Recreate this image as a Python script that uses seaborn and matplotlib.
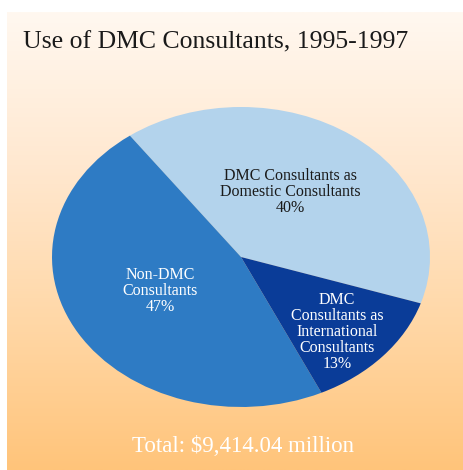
import numpy as np
import matplotlib.pyplot as plt
import seaborn as sns
from matplotlib.colors import LinearSegmentedColormap

# dados
categorias = ['DMC Consultants as\nDomestic Consultants',
              'Non-DMC\nConsultants',
              'DMC\nConsultants as\nInternational\nConsultants']
percentuais = [40, 47, 13]
cores = ['#b3d3ec', '#2e7bc4', '#0a3c98']
cores_texto = ['#1a1a1a', 'white', 'white']
titulo = 'Use of DMC Consultants, 1995-1997'
total = 'Total: $9,414.04 million'

sns.set_style('white')
plt.rcParams['font.family'] = ['Liberation Serif', 'DejaVu Serif']

W, H = 463, 470
fig = plt.figure(figsize=(W / 100, H / 100), dpi=100)

# fundo em degradê
bg = fig.add_axes([7 / W, 0, 1 - 7 / W, 1 - 12 / H])
cmap = LinearSegmentedColormap.from_list('bg', ['#fff8f0', '#ffe8d0', '#ffd8a8', '#ffc47a'])
grad = np.linspace(0, 1, 256).reshape(-1, 1)
bg.imshow(grad, aspect='auto', cmap=cmap, extent=[0, 1, 0, 1], origin='upper')
bg.set_axis_off()

# pizza (elíptica)
ax = fig.add_axes([52 / W, (H - 407) / H, 378 / W, 300 / H])
wedges, _ = ax.pie(percentuais, colors=cores, startangle=-18, counterclock=True,
                   radius=1, wedgeprops=dict(linewidth=0))
ax.set_aspect('auto')
ax.set_xlim(-1, 1)
ax.set_ylim(-1, 1)
ax.set_axis_off()

# posições dos rótulos em pixels (centro)
posicoes_px = [(290, 192), (160, 291), (337, 332)]
for (px, py), cat, p, c in zip(posicoes_px, categorias, percentuais, cores_texto):
    fig.text(px / W, 1 - py / H, f'{cat}\n{p}%', ha='center', va='center', color=c,
             fontsize=11.5, linespacing=1.0)

fig.text(23 / W, 1 - 42 / H, titulo, fontsize=18.5, color='#1a1a1a',
         ha='left', va='center')
fig.text(243 / W, 1 - 447 / H, total, fontsize=16.5, color='white',
         ha='center', va='center')

plt.savefig('out.png', dpi=100)
